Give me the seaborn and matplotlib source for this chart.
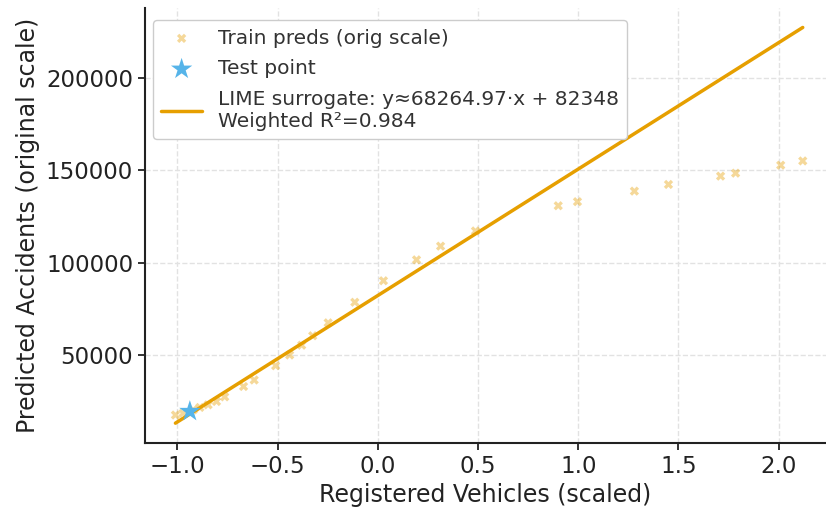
import matplotlib
matplotlib.use("Agg")
import matplotlib.pyplot as plt
import seaborn as sns
import numpy as np
import pandas as pd

# ---- data ----
train_x = [-1.01, -0.972, -0.921, -0.888, -0.847, -0.805, -0.764, -0.670, -0.617,
           -0.51, -0.44, -0.38, -0.325, -0.248, -0.115, 0.028, 0.193, 0.313, 0.487,
           0.90, 0.996, 1.28, 1.45, 1.71, 1.785, 2.01, 2.12]
train_y = [17800, 18800, 20600, 21900, 23300, 25100, 27600, 33200, 36700,
           44400, 50200, 55500, 60600, 67600, 78700, 90300, 101600, 109000, 117200,
           130800, 133000, 138700, 142300, 146800, 148400, 152700, 155000]
test_x = [-0.938]
test_y = [19800]
slope = 68264.97
intercept = 82348
r2 = 0.984

sns.set_theme(style="whitegrid")
plt.rcParams['font.family'] = ['DejaVu Sans']
plt.rcParams.update({
    "grid.linestyle": "--",
    "grid.color": "#e2e2e2",
    "grid.linewidth": 1.0,
    "axes.edgecolor": "#222222",
    "axes.linewidth": 1.5,
    "xtick.bottom": True,
    "ytick.left": True,
    "xtick.color": "#222222",
    "ytick.color": "#222222",
    "xtick.major.size": 5,
    "ytick.major.size": 5,
    "xtick.major.width": 1.3,
    "ytick.major.width": 1.3,
})

fig = plt.figure(figsize=(8.26, 5.09), dpi=100)
ax = fig.add_axes([0.1755, 0.1297, 0.8245, 0.855])

train_df = pd.DataFrame({"x": train_x, "y": train_y})
test_df = pd.DataFrame({"x": test_x, "y": test_y})
lx = np.array([min(train_x), max(train_x)])
line_df = pd.DataFrame({"x": lx, "y": slope * lx + intercept})

sns.scatterplot(data=train_df, x="x", y="y", ax=ax, marker="X", s=45,
                color="#E69F00", alpha=0.4, edgecolor="none",
                label="Train preds (orig scale)", zorder=2)
sns.scatterplot(data=test_df, x="x", y="y", ax=ax, marker="*", s=260,
                color="#56B4E9", edgecolor="none", label="Test point", zorder=4)
sns.lineplot(data=line_df, x="x", y="y", ax=ax, color="#E69F00", linewidth=2.5,
             label=f"LIME surrogate: y\u2248{slope:.2f}\u00b7x + {intercept:.0f}\nWeighted R\u00b2={r2:.3f}",
             zorder=3)

ax.set_xlim(-1.162, 2.236)
ax.set_ylim(2700, 237700)
ax.set_xticks([-1.0, -0.5, 0.0, 0.5, 1.0, 1.5, 2.0])
ax.set_yticks([50000, 100000, 150000, 200000])
ax.tick_params(labelsize=16.5)
ax.set_xlabel("Registered Vehicles (scaled)", fontsize=17, color="#222222")
ax.set_ylabel("Predicted Accidents (original scale)", fontsize=17, color="#222222")
for s in ["top", "right"]:
    ax.spines[s].set_visible(False)

leg = ax.legend(loc="upper left", fontsize=14.5, frameon=True, framealpha=1.0,
                edgecolor="#cccccc", borderaxespad=0.4, handlelength=2.0,
                handletextpad=0.8, labelspacing=0.58, borderpad=0.42,
                bbox_to_anchor=(0.0, 0.99))
for t in leg.get_texts():
    t.set_color("#333333")

fig.savefig("out.png", dpi=100)
